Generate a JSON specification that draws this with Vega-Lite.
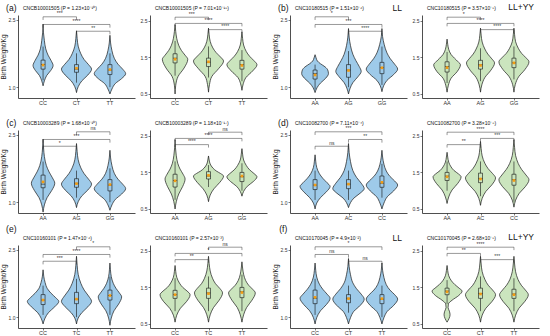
{
"$schema":"https://vega.github.io/schema/vega-lite/v6.json",
"padding":{"left":0,"right":2,"top":3,"bottom":0},
"spacing":5,
"datasets":{"all":[
{"p":"a1","g":1,"y":1.03,"w":0},{"p":"a1","g":1,"y":1.14,"w":0.04},{"p":"a1","g":1,"y":1.26,"w":0.11},{"p":"a1","g":1,"y":1.37,"w":0.23},{"p":"a1","g":1,"y":1.48,"w":0.3},{"p":"a1","g":1,"y":1.59,"w":0.24},{"p":"a1","g":1,"y":1.71,"w":0.15},{"p":"a1","g":1,"y":1.85,"w":0.08},{"p":"a1","g":1,"y":2.03,"w":0.04},{"p":"a1","g":1,"y":2.22,"w":0.01},{"p":"a1","g":1,"y":2.4,"w":0},
{"p":"a1","g":2,"y":0.88,"w":0},{"p":"a1","g":2,"y":1.01,"w":0.05},{"p":"a1","g":2,"y":1.14,"w":0.16},{"p":"a1","g":2,"y":1.27,"w":0.34},{"p":"a1","g":2,"y":1.4,"w":0.45},{"p":"a1","g":2,"y":1.5,"w":0.36},{"p":"a1","g":2,"y":1.61,"w":0.23},{"p":"a1","g":2,"y":1.74,"w":0.13},{"p":"a1","g":2,"y":1.91,"w":0.05},{"p":"a1","g":2,"y":2.08,"w":0.02},{"p":"a1","g":2,"y":2.25,"w":0},
{"p":"a1","g":3,"y":0.85,"w":0},{"p":"a1","g":3,"y":0.96,"w":0.06},{"p":"a1","g":3,"y":1.08,"w":0.16},{"p":"a1","g":3,"y":1.19,"w":0.35},{"p":"a1","g":3,"y":1.3,"w":0.47},{"p":"a1","g":3,"y":1.4,"w":0.38},{"p":"a1","g":3,"y":1.51,"w":0.24},{"p":"a1","g":3,"y":1.64,"w":0.13},{"p":"a1","g":3,"y":1.81,"w":0.06},{"p":"a1","g":3,"y":1.98,"w":0.02},{"p":"a1","g":3,"y":2.15,"w":0},
{"p":"a2","g":1,"y":0.5,"w":0},{"p":"a2","g":1,"y":0.74,"w":0.02},{"p":"a2","g":1,"y":0.98,"w":0.09},{"p":"a2","g":1,"y":1.21,"w":0.27},{"p":"a2","g":1,"y":1.45,"w":0.38},{"p":"a2","g":1,"y":1.56,"w":0.3},{"p":"a2","g":1,"y":1.69,"w":0.19},{"p":"a2","g":1,"y":1.83,"w":0.11},{"p":"a2","g":1,"y":2.02,"w":0.05},{"p":"a2","g":1,"y":2.21,"w":0.02},{"p":"a2","g":1,"y":2.4,"w":0},
{"p":"a2","g":2,"y":0.55,"w":0},{"p":"a2","g":2,"y":0.76,"w":0.03},{"p":"a2","g":2,"y":0.98,"w":0.1},{"p":"a2","g":2,"y":1.19,"w":0.3},{"p":"a2","g":2,"y":1.4,"w":0.45},{"p":"a2","g":2,"y":1.51,"w":0.36},{"p":"a2","g":2,"y":1.63,"w":0.23},{"p":"a2","g":2,"y":1.76,"w":0.13},{"p":"a2","g":2,"y":1.94,"w":0.05},{"p":"a2","g":2,"y":2.12,"w":0.02},{"p":"a2","g":2,"y":2.3,"w":0},
{"p":"a2","g":3,"y":0.6,"w":0},{"p":"a2","g":3,"y":0.78,"w":0.04},{"p":"a2","g":3,"y":0.95,"w":0.12},{"p":"a2","g":3,"y":1.13,"w":0.32},{"p":"a2","g":3,"y":1.3,"w":0.45},{"p":"a2","g":3,"y":1.41,"w":0.36},{"p":"a2","g":3,"y":1.53,"w":0.23},{"p":"a2","g":3,"y":1.66,"w":0.13},{"p":"a2","g":3,"y":1.84,"w":0.05},{"p":"a2","g":3,"y":2.02,"w":0.02},{"p":"a2","g":3,"y":2.2,"w":0},
{"p":"b1","g":1,"y":0.88,"w":0},{"p":"b1","g":1,"y":0.99,"w":0.06},{"p":"b1","g":1,"y":1.09,"w":0.16},{"p":"b1","g":1,"y":1.2,"w":0.32},{"p":"b1","g":1,"y":1.3,"w":0.4},{"p":"b1","g":1,"y":1.38,"w":0.38},{"p":"b1","g":1,"y":1.45,"w":0.3},{"p":"b1","g":1,"y":1.52,"w":0.16},{"p":"b1","g":1,"y":1.58,"w":0.07},{"p":"b1","g":1,"y":1.65,"w":0.03},{"p":"b1","g":1,"y":1.72,"w":0},
{"p":"b1","g":2,"y":0.85,"w":0},{"p":"b1","g":2,"y":0.98,"w":0.05},{"p":"b1","g":2,"y":1.1,"w":0.13},{"p":"b1","g":2,"y":1.23,"w":0.28},{"p":"b1","g":2,"y":1.35,"w":0.38},{"p":"b1","g":2,"y":1.46,"w":0.32},{"p":"b1","g":2,"y":1.59,"w":0.22},{"p":"b1","g":2,"y":1.73,"w":0.13},{"p":"b1","g":2,"y":1.92,"w":0.06},{"p":"b1","g":2,"y":2.11,"w":0.02},{"p":"b1","g":2,"y":2.3,"w":0},
{"p":"b1","g":3,"y":0.9,"w":0},{"p":"b1","g":3,"y":1.03,"w":0.05},{"p":"b1","g":3,"y":1.15,"w":0.15},{"p":"b1","g":3,"y":1.28,"w":0.35},{"p":"b1","g":3,"y":1.4,"w":0.47},{"p":"b1","g":3,"y":1.51,"w":0.38},{"p":"b1","g":3,"y":1.63,"w":0.25},{"p":"b1","g":3,"y":1.76,"w":0.15},{"p":"b1","g":3,"y":1.94,"w":0.07},{"p":"b1","g":3,"y":2.12,"w":0.02},{"p":"b1","g":3,"y":2.3,"w":0},
{"p":"b2","g":1,"y":0.55,"w":0},{"p":"b2","g":1,"y":0.74,"w":0.04},{"p":"b2","g":1,"y":0.93,"w":0.12},{"p":"b2","g":1,"y":1.11,"w":0.3},{"p":"b2","g":1,"y":1.3,"w":0.4},{"p":"b2","g":1,"y":1.38,"w":0.33},{"p":"b2","g":1,"y":1.48,"w":0.22},{"p":"b2","g":1,"y":1.58,"w":0.12},{"p":"b2","g":1,"y":1.72,"w":0.05},{"p":"b2","g":1,"y":1.86,"w":0.02},{"p":"b2","g":1,"y":2.0,"w":0},
{"p":"b2","g":2,"y":0.55,"w":0},{"p":"b2","g":2,"y":0.75,"w":0.04},{"p":"b2","g":2,"y":0.95,"w":0.13},{"p":"b2","g":2,"y":1.15,"w":0.31},{"p":"b2","g":2,"y":1.35,"w":0.42},{"p":"b2","g":2,"y":1.46,"w":0.34},{"p":"b2","g":2,"y":1.59,"w":0.22},{"p":"b2","g":2,"y":1.73,"w":0.13},{"p":"b2","g":2,"y":1.92,"w":0.05},{"p":"b2","g":2,"y":2.11,"w":0.02},{"p":"b2","g":2,"y":2.3,"w":0},
{"p":"b2","g":3,"y":0.55,"w":0},{"p":"b2","g":3,"y":0.76,"w":0.04},{"p":"b2","g":3,"y":0.97,"w":0.14},{"p":"b2","g":3,"y":1.17,"w":0.33},{"p":"b2","g":3,"y":1.38,"w":0.45},{"p":"b2","g":3,"y":1.49,"w":0.36},{"p":"b2","g":3,"y":1.61,"w":0.23},{"p":"b2","g":3,"y":1.75,"w":0.13},{"p":"b2","g":3,"y":1.93,"w":0.05},{"p":"b2","g":3,"y":2.12,"w":0.02},{"p":"b2","g":3,"y":2.3,"w":0},
{"p":"c1","g":1,"y":0.78,"w":0},{"p":"c1","g":1,"y":0.94,"w":0.04},{"p":"c1","g":1,"y":1.1,"w":0.12},{"p":"c1","g":1,"y":1.26,"w":0.26},{"p":"c1","g":1,"y":1.42,"w":0.35},{"p":"c1","g":1,"y":1.54,"w":0.28},{"p":"c1","g":1,"y":1.67,"w":0.18},{"p":"c1","g":1,"y":1.81,"w":0.1},{"p":"c1","g":1,"y":2.01,"w":0.04},{"p":"c1","g":1,"y":2.2,"w":0.015},{"p":"c1","g":1,"y":2.4,"w":0},
{"p":"c1","g":2,"y":0.88,"w":0},{"p":"c1","g":2,"y":1.01,"w":0.05},{"p":"c1","g":2,"y":1.14,"w":0.16},{"p":"c1","g":2,"y":1.27,"w":0.34},{"p":"c1","g":2,"y":1.4,"w":0.45},{"p":"c1","g":2,"y":1.51,"w":0.36},{"p":"c1","g":2,"y":1.63,"w":0.23},{"p":"c1","g":2,"y":1.76,"w":0.13},{"p":"c1","g":2,"y":1.94,"w":0.05},{"p":"c1","g":2,"y":2.12,"w":0.02},{"p":"c1","g":2,"y":2.3,"w":0},
{"p":"c1","g":3,"y":0.82,"w":0},{"p":"c1","g":3,"y":0.94,"w":0.06},{"p":"c1","g":3,"y":1.06,"w":0.16},{"p":"c1","g":3,"y":1.18,"w":0.35},{"p":"c1","g":3,"y":1.3,"w":0.47},{"p":"c1","g":3,"y":1.4,"w":0.38},{"p":"c1","g":3,"y":1.51,"w":0.24},{"p":"c1","g":3,"y":1.64,"w":0.13},{"p":"c1","g":3,"y":1.81,"w":0.06},{"p":"c1","g":3,"y":1.98,"w":0.02},{"p":"c1","g":3,"y":2.15,"w":0},
{"p":"c2","g":1,"y":0.5,"w":0},{"p":"c2","g":1,"y":0.71,"w":0.04},{"p":"c2","g":1,"y":0.91,"w":0.11},{"p":"c2","g":1,"y":1.12,"w":0.23},{"p":"c2","g":1,"y":1.32,"w":0.3},{"p":"c2","g":1,"y":1.45,"w":0.24},{"p":"c2","g":1,"y":1.59,"w":0.15},{"p":"c2","g":1,"y":1.75,"w":0.08},{"p":"c2","g":1,"y":1.97,"w":0.035},{"p":"c2","g":1,"y":2.18,"w":0.012},{"p":"c2","g":1,"y":2.4,"w":0},
{"p":"c2","g":2,"y":0.7,"w":0},{"p":"c2","g":2,"y":0.88,"w":0.05},{"p":"c2","g":2,"y":1.05,"w":0.16},{"p":"c2","g":2,"y":1.23,"w":0.34},{"p":"c2","g":2,"y":1.4,"w":0.45},{"p":"c2","g":2,"y":1.47,"w":0.36},{"p":"c2","g":2,"y":1.54,"w":0.23},{"p":"c2","g":2,"y":1.62,"w":0.13},{"p":"c2","g":2,"y":1.73,"w":0.05},{"p":"c2","g":2,"y":1.84,"w":0.02},{"p":"c2","g":2,"y":1.95,"w":0},
{"p":"c2","g":3,"y":0.85,"w":0},{"p":"c2","g":3,"y":0.98,"w":0.05},{"p":"c2","g":3,"y":1.12,"w":0.16},{"p":"c2","g":3,"y":1.25,"w":0.34},{"p":"c2","g":3,"y":1.38,"w":0.45},{"p":"c2","g":3,"y":1.47,"w":0.36},{"p":"c2","g":3,"y":1.57,"w":0.23},{"p":"c2","g":3,"y":1.69,"w":0.13},{"p":"c2","g":3,"y":1.84,"w":0.05},{"p":"c2","g":3,"y":2.0,"w":0.02},{"p":"c2","g":3,"y":2.15,"w":0},
{"p":"d1","g":1,"y":0.85,"w":0},{"p":"d1","g":1,"y":0.98,"w":0.05},{"p":"d1","g":1,"y":1.1,"w":0.16},{"p":"d1","g":1,"y":1.23,"w":0.34},{"p":"d1","g":1,"y":1.35,"w":0.45},{"p":"d1","g":1,"y":1.43,"w":0.36},{"p":"d1","g":1,"y":1.53,"w":0.23},{"p":"d1","g":1,"y":1.63,"w":0.13},{"p":"d1","g":1,"y":1.77,"w":0.05},{"p":"d1","g":1,"y":1.91,"w":0.02},{"p":"d1","g":1,"y":2.05,"w":0},
{"p":"d1","g":2,"y":0.88,"w":0},{"p":"d1","g":2,"y":0.99,"w":0.06},{"p":"d1","g":2,"y":1.09,"w":0.16},{"p":"d1","g":2,"y":1.2,"w":0.35},{"p":"d1","g":2,"y":1.3,"w":0.47},{"p":"d1","g":2,"y":1.42,"w":0.38},{"p":"d1","g":2,"y":1.55,"w":0.24},{"p":"d1","g":2,"y":1.7,"w":0.13},{"p":"d1","g":2,"y":1.9,"w":0.06},{"p":"d1","g":2,"y":2.1,"w":0.02},{"p":"d1","g":2,"y":2.3,"w":0},
{"p":"d1","g":3,"y":0.85,"w":0},{"p":"d1","g":3,"y":0.98,"w":0.06},{"p":"d1","g":3,"y":1.12,"w":0.16},{"p":"d1","g":3,"y":1.25,"w":0.35},{"p":"d1","g":3,"y":1.38,"w":0.47},{"p":"d1","g":3,"y":1.47,"w":0.38},{"p":"d1","g":3,"y":1.57,"w":0.24},{"p":"d1","g":3,"y":1.69,"w":0.13},{"p":"d1","g":3,"y":1.84,"w":0.06},{"p":"d1","g":3,"y":2.0,"w":0.02},{"p":"d1","g":3,"y":2.15,"w":0},
{"p":"d2","g":1,"y":0.65,"w":0},{"p":"d2","g":1,"y":0.83,"w":0.05},{"p":"d2","g":1,"y":1.02,"w":0.15},{"p":"d2","g":1,"y":1.2,"w":0.32},{"p":"d2","g":1,"y":1.38,"w":0.42},{"p":"d2","g":1,"y":1.46,"w":0.34},{"p":"d2","g":1,"y":1.55,"w":0.21},{"p":"d2","g":1,"y":1.65,"w":0.12},{"p":"d2","g":1,"y":1.78,"w":0.05},{"p":"d2","g":1,"y":1.92,"w":0.02},{"p":"d2","g":1,"y":2.05,"w":0},
{"p":"d2","g":2,"y":0.6,"w":0},{"p":"d2","g":2,"y":0.79,"w":0.05},{"p":"d2","g":2,"y":0.98,"w":0.16},{"p":"d2","g":2,"y":1.16,"w":0.34},{"p":"d2","g":2,"y":1.35,"w":0.45},{"p":"d2","g":2,"y":1.47,"w":0.36},{"p":"d2","g":2,"y":1.6,"w":0.23},{"p":"d2","g":2,"y":1.75,"w":0.13},{"p":"d2","g":2,"y":1.95,"w":0.05},{"p":"d2","g":2,"y":2.15,"w":0.02},{"p":"d2","g":2,"y":2.35,"w":0},
{"p":"d2","g":3,"y":0.55,"w":0},{"p":"d2","g":3,"y":0.74,"w":0.05},{"p":"d2","g":3,"y":0.93,"w":0.16},{"p":"d2","g":3,"y":1.11,"w":0.34},{"p":"d2","g":3,"y":1.3,"w":0.45},{"p":"d2","g":3,"y":1.43,"w":0.36},{"p":"d2","g":3,"y":1.58,"w":0.23},{"p":"d2","g":3,"y":1.74,"w":0.13},{"p":"d2","g":3,"y":1.96,"w":0.05},{"p":"d2","g":3,"y":2.18,"w":0.02},{"p":"d2","g":3,"y":2.4,"w":0},
{"p":"e1","g":1,"y":0.85,"w":0},{"p":"e1","g":1,"y":0.98,"w":0.06},{"p":"e1","g":1,"y":1.1,"w":0.16},{"p":"e1","g":1,"y":1.23,"w":0.35},{"p":"e1","g":1,"y":1.35,"w":0.47},{"p":"e1","g":1,"y":1.43,"w":0.38},{"p":"e1","g":1,"y":1.53,"w":0.24},{"p":"e1","g":1,"y":1.63,"w":0.13},{"p":"e1","g":1,"y":1.77,"w":0.06},{"p":"e1","g":1,"y":1.91,"w":0.02},{"p":"e1","g":1,"y":2.05,"w":0},
{"p":"e1","g":2,"y":0.85,"w":0},{"p":"e1","g":2,"y":0.98,"w":0.05},{"p":"e1","g":2,"y":1.1,"w":0.16},{"p":"e1","g":2,"y":1.23,"w":0.34},{"p":"e1","g":2,"y":1.35,"w":0.45},{"p":"e1","g":2,"y":1.47,"w":0.36},{"p":"e1","g":2,"y":1.6,"w":0.23},{"p":"e1","g":2,"y":1.75,"w":0.13},{"p":"e1","g":2,"y":1.95,"w":0.05},{"p":"e1","g":2,"y":2.15,"w":0.02},{"p":"e1","g":2,"y":2.35,"w":0},
{"p":"e1","g":3,"y":0.82,"w":0},{"p":"e1","g":3,"y":0.98,"w":0.04},{"p":"e1","g":3,"y":1.14,"w":0.12},{"p":"e1","g":3,"y":1.29,"w":0.26},{"p":"e1","g":3,"y":1.45,"w":0.35},{"p":"e1","g":3,"y":1.54,"w":0.28},{"p":"e1","g":3,"y":1.64,"w":0.18},{"p":"e1","g":3,"y":1.75,"w":0.1},{"p":"e1","g":3,"y":1.9,"w":0.04},{"p":"e1","g":3,"y":2.05,"w":0.015},{"p":"e1","g":3,"y":2.2,"w":0},
{"p":"e2","g":1,"y":0.55,"w":0},{"p":"e2","g":1,"y":0.74,"w":0.05},{"p":"e2","g":1,"y":0.93,"w":0.16},{"p":"e2","g":1,"y":1.11,"w":0.34},{"p":"e2","g":1,"y":1.3,"w":0.45},{"p":"e2","g":1,"y":1.4,"w":0.36},{"p":"e2","g":1,"y":1.5,"w":0.23},{"p":"e2","g":1,"y":1.62,"w":0.13},{"p":"e2","g":1,"y":1.78,"w":0.05},{"p":"e2","g":1,"y":1.94,"w":0.02},{"p":"e2","g":1,"y":2.1,"w":0},
{"p":"e2","g":2,"y":0.55,"w":0},{"p":"e2","g":2,"y":0.75,"w":0.05},{"p":"e2","g":2,"y":0.95,"w":0.15},{"p":"e2","g":2,"y":1.15,"w":0.32},{"p":"e2","g":2,"y":1.35,"w":0.42},{"p":"e2","g":2,"y":1.47,"w":0.34},{"p":"e2","g":2,"y":1.6,"w":0.21},{"p":"e2","g":2,"y":1.75,"w":0.12},{"p":"e2","g":2,"y":1.95,"w":0.05},{"p":"e2","g":2,"y":2.15,"w":0.02},{"p":"e2","g":2,"y":2.35,"w":0},
{"p":"e2","g":3,"y":0.55,"w":0},{"p":"e2","g":3,"y":0.75,"w":0.05},{"p":"e2","g":3,"y":0.95,"w":0.14},{"p":"e2","g":3,"y":1.15,"w":0.3},{"p":"e2","g":3,"y":1.35,"w":0.4},{"p":"e2","g":3,"y":1.45,"w":0.32},{"p":"e2","g":3,"y":1.56,"w":0.2},{"p":"e2","g":3,"y":1.69,"w":0.11},{"p":"e2","g":3,"y":1.86,"w":0.05},{"p":"e2","g":3,"y":2.03,"w":0.02},{"p":"e2","g":3,"y":2.2,"w":0},
{"p":"f1","g":1,"y":0.85,"w":0},{"p":"f1","g":1,"y":0.99,"w":0.05},{"p":"f1","g":1,"y":1.14,"w":0.16},{"p":"f1","g":1,"y":1.28,"w":0.34},{"p":"f1","g":1,"y":1.42,"w":0.45},{"p":"f1","g":1,"y":1.51,"w":0.36},{"p":"f1","g":1,"y":1.62,"w":0.23},{"p":"f1","g":1,"y":1.73,"w":0.13},{"p":"f1","g":1,"y":1.89,"w":0.05},{"p":"f1","g":1,"y":2.04,"w":0.02},{"p":"f1","g":1,"y":2.2,"w":0},
{"p":"f1","g":2,"y":0.85,"w":0},{"p":"f1","g":2,"y":0.99,"w":0.06},{"p":"f1","g":2,"y":1.13,"w":0.16},{"p":"f1","g":2,"y":1.26,"w":0.35},{"p":"f1","g":2,"y":1.4,"w":0.47},{"p":"f1","g":2,"y":1.51,"w":0.38},{"p":"f1","g":2,"y":1.63,"w":0.24},{"p":"f1","g":2,"y":1.76,"w":0.13},{"p":"f1","g":2,"y":1.94,"w":0.06},{"p":"f1","g":2,"y":2.12,"w":0.02},{"p":"f1","g":2,"y":2.3,"w":0},
{"p":"f1","g":3,"y":0.85,"w":0},{"p":"f1","g":3,"y":0.99,"w":0.06},{"p":"f1","g":3,"y":1.13,"w":0.16},{"p":"f1","g":3,"y":1.26,"w":0.35},{"p":"f1","g":3,"y":1.4,"w":0.47},{"p":"f1","g":3,"y":1.5,"w":0.38},{"p":"f1","g":3,"y":1.6,"w":0.24},{"p":"f1","g":3,"y":1.72,"w":0.13},{"p":"f1","g":3,"y":1.88,"w":0.06},{"p":"f1","g":3,"y":2.04,"w":0.02},{"p":"f1","g":3,"y":2.2,"w":0},
{"p":"f2","g":1,"y":0.55,"w":0},{"p":"f2","g":1,"y":0.65,"w":0.06},{"p":"f2","g":1,"y":0.75,"w":0.09},{"p":"f2","g":1,"y":0.85,"w":0.07},{"p":"f2","g":1,"y":0.95,"w":0.03},{"p":"f2","g":1,"y":1.05,"w":0.04},{"p":"f2","g":1,"y":1.15,"w":0.15},{"p":"f2","g":1,"y":1.28,"w":0.35},{"p":"f2","g":1,"y":1.4,"w":0.45},{"p":"f2","g":1,"y":1.48,"w":0.36},{"p":"f2","g":1,"y":1.58,"w":0.23},{"p":"f2","g":1,"y":1.68,"w":0.13},{"p":"f2","g":1,"y":1.82,"w":0.05},{"p":"f2","g":1,"y":1.96,"w":0.02},{"p":"f2","g":1,"y":2.1,"w":0},
{"p":"f2","g":2,"y":0.55,"w":0},{"p":"f2","g":2,"y":0.74,"w":0.05},{"p":"f2","g":2,"y":0.93,"w":0.16},{"p":"f2","g":2,"y":1.11,"w":0.34},{"p":"f2","g":2,"y":1.3,"w":0.45},{"p":"f2","g":2,"y":1.43,"w":0.36},{"p":"f2","g":2,"y":1.56,"w":0.23},{"p":"f2","g":2,"y":1.72,"w":0.13},{"p":"f2","g":2,"y":1.93,"w":0.05},{"p":"f2","g":2,"y":2.14,"w":0.02},{"p":"f2","g":2,"y":2.35,"w":0},
{"p":"f2","g":3,"y":0.55,"w":0},{"p":"f2","g":3,"y":0.74,"w":0.05},{"p":"f2","g":3,"y":0.93,"w":0.15},{"p":"f2","g":3,"y":1.11,"w":0.32},{"p":"f2","g":3,"y":1.3,"w":0.43},{"p":"f2","g":3,"y":1.43,"w":0.34},{"p":"f2","g":3,"y":1.56,"w":0.22},{"p":"f2","g":3,"y":1.72,"w":0.12},{"p":"f2","g":3,"y":1.93,"w":0.05},{"p":"f2","g":3,"y":2.14,"w":0.02},{"p":"f2","g":3,"y":2.35,"w":0},
{"p":"a1","g":1,"l":1.15,"q1":1.4,"m":1.5,"q3":1.6,"h":1.9,"mn":1.49},{"p":"a1","g":2,"l":1.1,"q1":1.33,"m":1.4,"q3":1.5,"h":1.75,"mn":1.42},{"p":"a1","g":3,"l":1.0,"q1":1.28,"m":1.38,"q3":1.5,"h":1.75,"mn":1.39},
{"p":"a2","g":1,"l":1.0,"q1":1.35,"m":1.48,"q3":1.6,"h":1.95,"mn":1.45},{"p":"a2","g":2,"l":0.95,"q1":1.25,"m":1.37,"q3":1.48,"h":1.8,"mn":1.38},{"p":"a2","g":3,"l":0.85,"q1":1.18,"m":1.3,"q3":1.42,"h":1.7,"mn":1.28},
{"p":"b1","g":1,"l":0.95,"q1":1.18,"m":1.3,"q3":1.38,"h":1.5,"mn":1.27},{"p":"b1","g":2,"l":1.0,"q1":1.22,"m":1.38,"q3":1.5,"h":1.8,"mn":1.37},{"p":"b1","g":3,"l":1.05,"q1":1.3,"m":1.43,"q3":1.55,"h":1.9,"mn":1.43},
{"p":"b2","g":1,"l":0.8,"q1":1.1,"m":1.25,"q3":1.38,"h":1.65,"mn":1.22},{"p":"b2","g":2,"l":0.85,"q1":1.18,"m":1.3,"q3":1.42,"h":1.75,"mn":1.28},{"p":"b2","g":3,"l":0.9,"q1":1.22,"m":1.35,"q3":1.48,"h":1.8,"mn":1.35},
{"p":"c1","g":1,"l":1.05,"q1":1.32,"m":1.4,"q3":1.6,"h":1.9,"mn":1.45},{"p":"c1","g":2,"l":1.1,"q1":1.33,"m":1.42,"q3":1.52,"h":1.7,"mn":1.41},{"p":"c1","g":3,"l":1.0,"q1":1.25,"m":1.38,"q3":1.5,"h":1.75,"mn":1.39},
{"p":"c2","g":1,"l":0.75,"q1":1.1,"m":1.28,"q3":1.45,"h":1.8,"mn":1.27},{"p":"c2","g":2,"l":1.1,"q1":1.32,"m":1.4,"q3":1.52,"h":1.7,"mn":1.42},{"p":"c2","g":3,"l":1.0,"q1":1.25,"m":1.38,"q3":1.5,"h":1.75,"mn":1.4},
{"p":"d1","g":1,"l":1.05,"q1":1.28,"m":1.38,"q3":1.5,"h":1.7,"mn":1.38},{"p":"d1","g":2,"l":1.05,"q1":1.3,"m":1.4,"q3":1.5,"h":1.7,"mn":1.4},{"p":"d1","g":3,"l":1.1,"q1":1.33,"m":1.42,"q3":1.58,"h":1.85,"mn":1.44},
{"p":"d2","g":1,"l":1.0,"q1":1.28,"m":1.4,"q3":1.5,"h":1.8,"mn":1.38},{"p":"d2","g":2,"l":0.85,"q1":1.22,"m":1.33,"q3":1.48,"h":1.8,"mn":1.32},{"p":"d2","g":3,"l":0.7,"q1":1.15,"m":1.3,"q3":1.45,"h":1.8,"mn":1.28},
{"p":"e1","g":1,"l":1.05,"q1":1.28,"m":1.38,"q3":1.5,"h":1.7,"mn":1.38},{"p":"e1","g":2,"l":1.0,"q1":1.3,"m":1.4,"q3":1.55,"h":1.85,"mn":1.4},{"p":"e1","g":3,"l":1.05,"q1":1.38,"m":1.48,"q3":1.6,"h":1.9,"mn":1.48},
{"p":"e2","g":1,"l":0.85,"q1":1.2,"m":1.3,"q3":1.42,"h":1.75,"mn":1.3},{"p":"e2","g":2,"l":0.85,"q1":1.2,"m":1.35,"q3":1.48,"h":1.8,"mn":1.33},{"p":"e2","g":3,"l":0.85,"q1":1.22,"m":1.38,"q3":1.5,"h":1.85,"mn":1.36},
{"p":"f1","g":1,"l":1.05,"q1":1.3,"m":1.42,"q3":1.6,"h":1.85,"mn":1.44},{"p":"f1","g":2,"l":1.1,"q1":1.32,"m":1.42,"q3":1.5,"h":1.7,"mn":1.41},{"p":"f1","g":3,"l":1.0,"q1":1.3,"m":1.4,"q3":1.5,"h":1.7,"mn":1.41},
{"p":"f2","g":1,"l":1.05,"q1":1.3,"m":1.4,"q3":1.48,"h":1.7,"mn":1.38},{"p":"f2","g":2,"l":0.85,"q1":1.2,"m":1.33,"q3":1.48,"h":1.8,"mn":1.32},{"p":"f2","g":3,"l":0.85,"q1":1.2,"m":1.32,"q3":1.45,"h":1.75,"mn":1.3},
{"p":"a1","x1":1,"x2":2,"y":2.56,"t":"***"},{"p":"a1","x1":1,"x2":3,"y":2.39,"t":"****"},{"p":"a1","x1":2,"x2":3,"y":2.24,"t":"**"},
{"p":"a2","x1":1,"x2":2,"y":2.6,"t":"***"},{"p":"a2","x1":1,"x2":3,"y":2.43,"t":"****"},{"p":"a2","x1":2,"x2":3,"y":2.26,"t":"****"},
{"p":"b1","x1":1,"x2":2,"y":2.56,"t":"*"},{"p":"b1","x1":1,"x2":3,"y":2.39,"t":"***"},{"p":"b1","x1":2,"x2":3,"y":2.24,"t":"****"},
{"p":"b2","x1":1,"x2":2,"y":2.6,"t":"*"},{"p":"b2","x1":1,"x2":3,"y":2.43,"t":"****"},{"p":"b2","x1":2,"x2":3,"y":2.26,"t":"****"},
{"p":"c1","x1":2,"x2":3,"y":2.56,"t":"ns"},{"p":"c1","x1":1,"x2":3,"y":2.39,"t":"***"},{"p":"c1","x1":1,"x2":2,"y":2.24,"t":"*"},
{"p":"c2","x1":2,"x2":3,"y":2.6,"t":"ns"},{"p":"c2","x1":1,"x2":3,"y":2.43,"t":"****"},{"p":"c2","x1":1,"x2":2,"y":2.26,"t":"****"},
{"p":"d1","x1":1,"x2":3,"y":2.56,"t":"***"},{"p":"d1","x1":2,"x2":3,"y":2.39,"t":"**"},{"p":"d1","x1":1,"x2":2,"y":2.24,"t":"ns"},
{"p":"d2","x1":1,"x2":3,"y":2.6,"t":"****"},{"p":"d2","x1":2,"x2":3,"y":2.43,"t":"***"},{"p":"d2","x1":1,"x2":2,"y":2.26,"t":"**"},
{"p":"e1","x1":2,"x2":3,"y":2.56,"t":"*"},{"p":"e1","x1":1,"x2":3,"y":2.39,"t":"****"},{"p":"e1","x1":1,"x2":2,"y":2.24,"t":"***"},
{"p":"e2","x1":2,"x2":3,"y":2.6,"t":"ns"},{"p":"e2","x1":1,"x2":3,"y":2.43,"t":"*"},{"p":"e2","x1":1,"x2":2,"y":2.26,"t":"**"},
{"p":"f1","x1":1,"x2":3,"y":2.56,"t":"*"},{"p":"f1","x1":1,"x2":2,"y":2.39,"t":"ns"},{"p":"f1","x1":2,"x2":3,"y":2.24,"t":"ns"},
{"p":"f2","x1":1,"x2":3,"y":2.6,"t":"****"},{"p":"f2","x1":1,"x2":2,"y":2.43,"t":"**"},{"p":"f2","x1":2,"x2":3,"y":2.26,"t":"***"},
{"p":"a1","g":1,"gt":"CC"},{"p":"a1","g":2,"gt":"CT"},{"p":"a1","g":3,"gt":"TT"},
{"p":"a2","g":1,"gt":"CC"},{"p":"a2","g":2,"gt":"CT"},{"p":"a2","g":3,"gt":"TT"},
{"p":"b1","g":1,"gt":"AA"},{"p":"b1","g":2,"gt":"AG"},{"p":"b1","g":3,"gt":"GG"},
{"p":"b2","g":1,"gt":"AA"},{"p":"b2","g":2,"gt":"AG"},{"p":"b2","g":3,"gt":"GG"},
{"p":"c1","g":1,"gt":"AA"},{"p":"c1","g":2,"gt":"AG"},{"p":"c1","g":3,"gt":"GG"},
{"p":"c2","g":1,"gt":"AA"},{"p":"c2","g":2,"gt":"AG"},{"p":"c2","g":3,"gt":"GG"},
{"p":"d1","g":1,"gt":"AA"},{"p":"d1","g":2,"gt":"AC"},{"p":"d1","g":3,"gt":"CC"},
{"p":"d2","g":1,"gt":"AA"},{"p":"d2","g":2,"gt":"AC"},{"p":"d2","g":3,"gt":"CC"},
{"p":"e1","g":1,"gt":"CC"},{"p":"e1","g":2,"gt":"TC"},{"p":"e1","g":3,"gt":"TT"},
{"p":"e2","g":1,"gt":"CC"},{"p":"e2","g":2,"gt":"TC"},{"p":"e2","g":3,"gt":"TT"},
{"p":"f1","g":1,"gt":"CC"},{"p":"f1","g":2,"gt":"CT"},{"p":"f1","g":3,"gt":"TT"},
{"p":"f2","g":1,"gt":"CC"},{"p":"f2","g":2,"gt":"CT"},{"p":"f2","g":3,"gt":"TT"},
{"p":"a1","T":"CNCB10001505 (P = 1.23×10⁻¹⁰)"},{"p":"a2","T":"CNCB10001505 (P = 7.01×10⁻¹⁵)"},{"p":"b1","T":"CNC10180515 (P = 1.51×10⁻⁶)"},{"p":"b2","T":"CNC10180515 (P = 3.57×10⁻⁵)"},
{"p":"c1","T":"CNCB10003289 (P = 1.68×10⁻¹⁰)"},{"p":"c2","T":"CNCB10003289 (P = 1.18×10⁻¹⁷)"},{"p":"d1","T":"CNC10082700 (P = 7.11×10⁻⁴)"},{"p":"d2","T":"CNC10082700 (P = 3.28×10⁻⁸)"},
{"p":"e1","T":"CNC10160101 (P = 1.47×10⁻⁶)"},{"p":"e2","T":"CNC10160101 (P = 2.57×10⁻³)"},{"p":"f1","T":"CNC10170045 (P = 4.9×10⁻²)"},{"p":"f2","T":"CNC10170045 (P = 2.68×10⁻⁵)"},
{"p":"a1","L":"(a)"},{"p":"b1","L":"(b)"},{"p":"c1","L":"(c)"},{"p":"d1","L":"(d)"},{"p":"e1","L":"(e)"},{"p":"f1","L":"(f)"},
{"p":"b1","S":"LL"},{"p":"b2","S":"LL+YY"},{"p":"f1","S":"LL"},{"p":"f2","S":"LL+YY"}
]},
"hconcat":[
{"data":{"name":"all"},"transform":[{"filter":{"field":"p","oneOf":["a1","c1","e1"]}}],
 "facet":{"field":"p","type":"nominal","title":null,"header":{"labels":false,"labelExpr":"''","labelFontSize":0,"labelPadding":0}},"columns":1,"spacing":2,
 "spec":{"width":117,"height":83,"layer":[
  {"transform":[{"filter":"isValid(datum.w)"},{"calculate":"datum.g-datum.w","as":"lo"},{"calculate":"datum.g+datum.w","as":"hi"}],
   "mark":{"type":"area","orient":"horizontal","interpolate":"monotone","fill":"#9ECAE9","stroke":"#1a1a1a","strokeWidth":0.7},
   "encoding":{"y":{"field":"y","type":"quantitative","scale":{"domain":[0.76,2.6],"nice":false,"zero":false},"axis":{"values":[1,1.5,2,2.5],"format":".1f","title":"Birth Weight/Kg"}},
    "x":{"field":"lo","type":"quantitative","scale":{"domain":[0.4,3.6],"nice":false,"zero":false},"axis":{"values":[1,2,3],"labels":false,"title":null}},
    "x2":{"field":"hi"},"detail":{"field":"g","type":"nominal"}}},
  {"transform":[{"filter":"isValid(datum.q1)"}],"mark":{"type":"rule","color":"#111","strokeWidth":0.6},
   "encoding":{"x":{"field":"g","type":"quantitative"},"y":{"field":"l","type":"quantitative"},"y2":{"field":"h"}}},
  {"transform":[{"filter":"isValid(datum.q1)"}],"mark":{"type":"bar","size":4,"fill":"#9ECAE9","stroke":"#111","strokeWidth":0.6},
   "encoding":{"x":{"field":"g","type":"quantitative"},"y":{"field":"q1","type":"quantitative"},"y2":{"field":"q3"}}},
  {"transform":[{"filter":"isValid(datum.q1)"}],"mark":{"type":"tick","orient":"horizontal","size":4,"thickness":0.8,"color":"#111"},
   "encoding":{"x":{"field":"g","type":"quantitative"},"y":{"field":"m","type":"quantitative"}}},
  {"transform":[{"filter":"isValid(datum.q1)"}],"mark":{"type":"square","size":7,"color":"#F39C12","opacity":1},
   "encoding":{"x":{"field":"g","type":"quantitative"},"y":{"field":"mn","type":"quantitative"}}},
  {"transform":[{"filter":"isValid(datum.x1)"}],"mark":{"type":"rule","color":"#333","strokeWidth":0.5},
   "encoding":{"x":{"field":"x1","type":"quantitative"},"x2":{"field":"x2"},"y":{"field":"y","type":"quantitative"}}},
  {"transform":[{"filter":"isValid(datum.x1)"},{"calculate":"datum.y-0.07","as":"yt"}],"mark":{"type":"rule","color":"#333","strokeWidth":0.5},
   "encoding":{"x":{"field":"x1","type":"quantitative"},"y":{"field":"y","type":"quantitative"},"y2":{"field":"yt"}}},
  {"transform":[{"filter":"isValid(datum.x1)"},{"calculate":"datum.y-0.07","as":"yt"}],"mark":{"type":"rule","color":"#333","strokeWidth":0.5},
   "encoding":{"x":{"field":"x2","type":"quantitative"},"y":{"field":"y","type":"quantitative"},"y2":{"field":"yt"}}},
  {"transform":[{"filter":"isValid(datum.x1)"},{"calculate":"(datum.x1+datum.x2)/2","as":"xm"}],"mark":{"type":"text","fontSize":5,"baseline":"bottom","dy":-0.5,"color":"#333"},
   "encoding":{"x":{"field":"xm","type":"quantitative"},"y":{"field":"y","type":"quantitative"},"text":{"field":"t"}}},
  {"transform":[{"filter":"isValid(datum.gt)"}],"mark":{"type":"text","fontSize":5.5,"baseline":"top","dy":3,"color":"#333"},
   "encoding":{"x":{"field":"g","type":"quantitative"},"y":{"datum":0.76,"type":"quantitative"},"text":{"field":"gt"}}},
  {"transform":[{"filter":"isValid(datum.T)"}],"mark":{"type":"text","fontSize":5,"align":"left","baseline":"middle","color":"#111"},
   "encoding":{"x":{"datum":0.4,"type":"quantitative"},"y":{"datum":2.76,"type":"quantitative"},"text":{"field":"T"}}},
  {"transform":[{"filter":"isValid(datum.L) && datum.p != 'e1' && datum.p != 'f1'"}],"mark":{"type":"text","fontSize":8.5,"align":"center","baseline":"middle","color":"#111"},
   "encoding":{"x":{"datum":0.05,"type":"quantitative"},"y":{"datum":2.76,"type":"quantitative"},"text":{"field":"L"}}},
  {"transform":[{"filter":"isValid(datum.L) && (datum.p == 'e1' || datum.p == 'f1')"}],"mark":{"type":"text","fontSize":8.5,"align":"center","baseline":"middle","color":"#111"},
   "encoding":{"x":{"datum":0.05,"type":"quantitative"},"y":{"datum":2.96,"type":"quantitative"},"text":{"field":"L"}}}
 ]},
 "resolve":{"axis":{"x":"independent","y":"independent"}}},
{"data":{"name":"all"},"transform":[{"filter":{"field":"p","oneOf":["a2","c2","e2"]}}],
 "facet":{"field":"p","type":"nominal","title":null,"header":{"labels":false,"labelExpr":"''","labelFontSize":0,"labelPadding":0}},"columns":1,"spacing":2,
 "spec":{"width":117,"height":83,"layer":[
  {"transform":[{"filter":"isValid(datum.w)"},{"calculate":"datum.g-datum.w","as":"lo"},{"calculate":"datum.g+datum.w","as":"hi"}],
   "mark":{"type":"area","orient":"horizontal","interpolate":"monotone","fill":"#CBE5BE","stroke":"#1a1a1a","strokeWidth":0.7},
   "encoding":{"y":{"field":"y","type":"quantitative","scale":{"domain":[0.39,2.66],"nice":false,"zero":false},"axis":{"values":[0.5,1,1.5,2,2.5],"format":".1f","title":null}},
    "x":{"field":"lo","type":"quantitative","scale":{"domain":[0.4,3.6],"nice":false,"zero":false},"axis":{"values":[1,2,3],"labels":false,"title":null}},
    "x2":{"field":"hi"},"detail":{"field":"g","type":"nominal"}}},
  {"transform":[{"filter":"isValid(datum.q1)"}],"mark":{"type":"rule","color":"#111","strokeWidth":0.6},
   "encoding":{"x":{"field":"g","type":"quantitative"},"y":{"field":"l","type":"quantitative"},"y2":{"field":"h"}}},
  {"transform":[{"filter":"isValid(datum.q1)"}],"mark":{"type":"bar","size":4,"fill":"#CBE5BE","stroke":"#111","strokeWidth":0.6},
   "encoding":{"x":{"field":"g","type":"quantitative"},"y":{"field":"q1","type":"quantitative"},"y2":{"field":"q3"}}},
  {"transform":[{"filter":"isValid(datum.q1)"}],"mark":{"type":"tick","orient":"horizontal","size":4,"thickness":0.8,"color":"#111"},
   "encoding":{"x":{"field":"g","type":"quantitative"},"y":{"field":"m","type":"quantitative"}}},
  {"transform":[{"filter":"isValid(datum.q1)"}],"mark":{"type":"square","size":7,"color":"#F39C12","opacity":1},
   "encoding":{"x":{"field":"g","type":"quantitative"},"y":{"field":"mn","type":"quantitative"}}},
  {"transform":[{"filter":"isValid(datum.x1)"}],"mark":{"type":"rule","color":"#333","strokeWidth":0.5},
   "encoding":{"x":{"field":"x1","type":"quantitative"},"x2":{"field":"x2"},"y":{"field":"y","type":"quantitative"}}},
  {"transform":[{"filter":"isValid(datum.x1)"},{"calculate":"datum.y-0.08","as":"yt"}],"mark":{"type":"rule","color":"#333","strokeWidth":0.5},
   "encoding":{"x":{"field":"x1","type":"quantitative"},"y":{"field":"y","type":"quantitative"},"y2":{"field":"yt"}}},
  {"transform":[{"filter":"isValid(datum.x1)"},{"calculate":"datum.y-0.08","as":"yt"}],"mark":{"type":"rule","color":"#333","strokeWidth":0.5},
   "encoding":{"x":{"field":"x2","type":"quantitative"},"y":{"field":"y","type":"quantitative"},"y2":{"field":"yt"}}},
  {"transform":[{"filter":"isValid(datum.x1)"},{"calculate":"(datum.x1+datum.x2)/2","as":"xm"}],"mark":{"type":"text","fontSize":5,"baseline":"bottom","dy":-0.5,"color":"#333"},
   "encoding":{"x":{"field":"xm","type":"quantitative"},"y":{"field":"y","type":"quantitative"},"text":{"field":"t"}}},
  {"transform":[{"filter":"isValid(datum.gt)"}],"mark":{"type":"text","fontSize":5.5,"baseline":"top","dy":3,"color":"#333"},
   "encoding":{"x":{"field":"g","type":"quantitative"},"y":{"datum":0.39,"type":"quantitative"},"text":{"field":"gt"}}},
  {"transform":[{"filter":"isValid(datum.T)"}],"mark":{"type":"text","fontSize":5,"align":"left","baseline":"middle","color":"#111"},
   "encoding":{"x":{"datum":0.4,"type":"quantitative"},"y":{"datum":2.85,"type":"quantitative"},"text":{"field":"T"}}},
  {"transform":[{"filter":"isValid(datum.T) && (datum.p == 'e2' || datum.p == 'f2')"}],"mark":{"type":"text","fontSize":8.5,"opacity":0},
   "encoding":{"x":{"datum":0.4,"type":"quantitative"},"y":{"datum":3.1,"type":"quantitative"},"text":{"value":" "}}}
 ]},
 "resolve":{"axis":{"x":"independent","y":"independent"}}},
{"data":{"name":"all"},"transform":[{"filter":{"field":"p","oneOf":["b1","d1","f1"]}}],
 "facet":{"field":"p","type":"nominal","title":null,"header":{"labels":false,"labelExpr":"''","labelFontSize":0,"labelPadding":0}},"columns":1,"spacing":2,
 "spec":{"width":117,"height":83,"layer":[
  {"transform":[{"filter":"isValid(datum.w)"},{"calculate":"datum.g-datum.w","as":"lo"},{"calculate":"datum.g+datum.w","as":"hi"}],
   "mark":{"type":"area","orient":"horizontal","interpolate":"monotone","fill":"#9ECAE9","stroke":"#1a1a1a","strokeWidth":0.7},
   "encoding":{"y":{"field":"y","type":"quantitative","scale":{"domain":[0.76,2.6],"nice":false,"zero":false},"axis":{"values":[1,1.5,2,2.5],"format":".1f","title":"Birth Weight/Kg"}},
    "x":{"field":"lo","type":"quantitative","scale":{"domain":[0.4,3.6],"nice":false,"zero":false},"axis":{"values":[1,2,3],"labels":false,"title":null}},
    "x2":{"field":"hi"},"detail":{"field":"g","type":"nominal"}}},
  {"transform":[{"filter":"isValid(datum.q1)"}],"mark":{"type":"rule","color":"#111","strokeWidth":0.6},
   "encoding":{"x":{"field":"g","type":"quantitative"},"y":{"field":"l","type":"quantitative"},"y2":{"field":"h"}}},
  {"transform":[{"filter":"isValid(datum.q1)"}],"mark":{"type":"bar","size":4,"fill":"#9ECAE9","stroke":"#111","strokeWidth":0.6},
   "encoding":{"x":{"field":"g","type":"quantitative"},"y":{"field":"q1","type":"quantitative"},"y2":{"field":"q3"}}},
  {"transform":[{"filter":"isValid(datum.q1)"}],"mark":{"type":"tick","orient":"horizontal","size":4,"thickness":0.8,"color":"#111"},
   "encoding":{"x":{"field":"g","type":"quantitative"},"y":{"field":"m","type":"quantitative"}}},
  {"transform":[{"filter":"isValid(datum.q1)"}],"mark":{"type":"square","size":7,"color":"#F39C12","opacity":1},
   "encoding":{"x":{"field":"g","type":"quantitative"},"y":{"field":"mn","type":"quantitative"}}},
  {"transform":[{"filter":"isValid(datum.x1)"}],"mark":{"type":"rule","color":"#333","strokeWidth":0.5},
   "encoding":{"x":{"field":"x1","type":"quantitative"},"x2":{"field":"x2"},"y":{"field":"y","type":"quantitative"}}},
  {"transform":[{"filter":"isValid(datum.x1)"},{"calculate":"datum.y-0.07","as":"yt"}],"mark":{"type":"rule","color":"#333","strokeWidth":0.5},
   "encoding":{"x":{"field":"x1","type":"quantitative"},"y":{"field":"y","type":"quantitative"},"y2":{"field":"yt"}}},
  {"transform":[{"filter":"isValid(datum.x1)"},{"calculate":"datum.y-0.07","as":"yt"}],"mark":{"type":"rule","color":"#333","strokeWidth":0.5},
   "encoding":{"x":{"field":"x2","type":"quantitative"},"y":{"field":"y","type":"quantitative"},"y2":{"field":"yt"}}},
  {"transform":[{"filter":"isValid(datum.x1)"},{"calculate":"(datum.x1+datum.x2)/2","as":"xm"}],"mark":{"type":"text","fontSize":5,"baseline":"bottom","dy":-0.5,"color":"#333"},
   "encoding":{"x":{"field":"xm","type":"quantitative"},"y":{"field":"y","type":"quantitative"},"text":{"field":"t"}}},
  {"transform":[{"filter":"isValid(datum.gt)"}],"mark":{"type":"text","fontSize":5.5,"baseline":"top","dy":3,"color":"#333"},
   "encoding":{"x":{"field":"g","type":"quantitative"},"y":{"datum":0.76,"type":"quantitative"},"text":{"field":"gt"}}},
  {"transform":[{"filter":"isValid(datum.T)"}],"mark":{"type":"text","fontSize":5,"align":"left","baseline":"middle","color":"#111"},
   "encoding":{"x":{"datum":0.4,"type":"quantitative"},"y":{"datum":2.76,"type":"quantitative"},"text":{"field":"T"}}},
  {"transform":[{"filter":"isValid(datum.L) && datum.p != 'e1' && datum.p != 'f1'"}],"mark":{"type":"text","fontSize":8.5,"align":"center","baseline":"middle","color":"#111"},
   "encoding":{"x":{"datum":0.05,"type":"quantitative"},"y":{"datum":2.76,"type":"quantitative"},"text":{"field":"L"}}},
  {"transform":[{"filter":"isValid(datum.L) && (datum.p == 'e1' || datum.p == 'f1')"}],"mark":{"type":"text","fontSize":8.5,"align":"center","baseline":"middle","color":"#111"},
   "encoding":{"x":{"datum":0.05,"type":"quantitative"},"y":{"datum":2.96,"type":"quantitative"},"text":{"field":"L"}}},
  {"transform":[{"filter":"isValid(datum.S)"}],"mark":{"type":"text","fontSize":8.5,"align":"right","baseline":"middle","color":"#111"},
   "encoding":{"x":{"datum":3.6,"type":"quantitative"},"y":{"datum":2.76,"type":"quantitative"},"text":{"field":"S"}}}
 ]},
 "resolve":{"axis":{"x":"independent","y":"independent"}}},
{"data":{"name":"all"},"transform":[{"filter":{"field":"p","oneOf":["b2","d2","f2"]}}],
 "facet":{"field":"p","type":"nominal","title":null,"header":{"labels":false,"labelExpr":"''","labelFontSize":0,"labelPadding":0}},"columns":1,"spacing":2,
 "spec":{"width":117,"height":83,"layer":[
  {"transform":[{"filter":"isValid(datum.w)"},{"calculate":"datum.g-datum.w","as":"lo"},{"calculate":"datum.g+datum.w","as":"hi"}],
   "mark":{"type":"area","orient":"horizontal","interpolate":"monotone","fill":"#CBE5BE","stroke":"#1a1a1a","strokeWidth":0.7},
   "encoding":{"y":{"field":"y","type":"quantitative","scale":{"domain":[0.39,2.66],"nice":false,"zero":false},"axis":{"values":[0.5,1,1.5,2,2.5],"format":".1f","title":null}},
    "x":{"field":"lo","type":"quantitative","scale":{"domain":[0.4,3.6],"nice":false,"zero":false},"axis":{"values":[1,2,3],"labels":false,"title":null}},
    "x2":{"field":"hi"},"detail":{"field":"g","type":"nominal"}}},
  {"transform":[{"filter":"isValid(datum.q1)"}],"mark":{"type":"rule","color":"#111","strokeWidth":0.6},
   "encoding":{"x":{"field":"g","type":"quantitative"},"y":{"field":"l","type":"quantitative"},"y2":{"field":"h"}}},
  {"transform":[{"filter":"isValid(datum.q1)"}],"mark":{"type":"bar","size":4,"fill":"#CBE5BE","stroke":"#111","strokeWidth":0.6},
   "encoding":{"x":{"field":"g","type":"quantitative"},"y":{"field":"q1","type":"quantitative"},"y2":{"field":"q3"}}},
  {"transform":[{"filter":"isValid(datum.q1)"}],"mark":{"type":"tick","orient":"horizontal","size":4,"thickness":0.8,"color":"#111"},
   "encoding":{"x":{"field":"g","type":"quantitative"},"y":{"field":"m","type":"quantitative"}}},
  {"transform":[{"filter":"isValid(datum.q1)"}],"mark":{"type":"square","size":7,"color":"#F39C12","opacity":1},
   "encoding":{"x":{"field":"g","type":"quantitative"},"y":{"field":"mn","type":"quantitative"}}},
  {"transform":[{"filter":"isValid(datum.x1)"}],"mark":{"type":"rule","color":"#333","strokeWidth":0.5},
   "encoding":{"x":{"field":"x1","type":"quantitative"},"x2":{"field":"x2"},"y":{"field":"y","type":"quantitative"}}},
  {"transform":[{"filter":"isValid(datum.x1)"},{"calculate":"datum.y-0.08","as":"yt"}],"mark":{"type":"rule","color":"#333","strokeWidth":0.5},
   "encoding":{"x":{"field":"x1","type":"quantitative"},"y":{"field":"y","type":"quantitative"},"y2":{"field":"yt"}}},
  {"transform":[{"filter":"isValid(datum.x1)"},{"calculate":"datum.y-0.08","as":"yt"}],"mark":{"type":"rule","color":"#333","strokeWidth":0.5},
   "encoding":{"x":{"field":"x2","type":"quantitative"},"y":{"field":"y","type":"quantitative"},"y2":{"field":"yt"}}},
  {"transform":[{"filter":"isValid(datum.x1)"},{"calculate":"(datum.x1+datum.x2)/2","as":"xm"}],"mark":{"type":"text","fontSize":5,"baseline":"bottom","dy":-0.5,"color":"#333"},
   "encoding":{"x":{"field":"xm","type":"quantitative"},"y":{"field":"y","type":"quantitative"},"text":{"field":"t"}}},
  {"transform":[{"filter":"isValid(datum.gt)"}],"mark":{"type":"text","fontSize":5.5,"baseline":"top","dy":3,"color":"#333"},
   "encoding":{"x":{"field":"g","type":"quantitative"},"y":{"datum":0.39,"type":"quantitative"},"text":{"field":"gt"}}},
  {"transform":[{"filter":"isValid(datum.T)"}],"mark":{"type":"text","fontSize":5,"align":"left","baseline":"middle","color":"#111"},
   "encoding":{"x":{"datum":0.4,"type":"quantitative"},"y":{"datum":2.85,"type":"quantitative"},"text":{"field":"T"}}},
  {"transform":[{"filter":"isValid(datum.T) && (datum.p == 'e2' || datum.p == 'f2')"}],"mark":{"type":"text","fontSize":8.5,"opacity":0},
   "encoding":{"x":{"datum":0.4,"type":"quantitative"},"y":{"datum":3.1,"type":"quantitative"},"text":{"value":" "}}},
  {"transform":[{"filter":"isValid(datum.S)"}],"mark":{"type":"text","fontSize":8.5,"align":"right","baseline":"middle","color":"#111"},
   "encoding":{"x":{"datum":3.6,"type":"quantitative"},"y":{"datum":2.87,"type":"quantitative"},"text":{"field":"S"}}}
 ]},
 "resolve":{"axis":{"x":"independent","y":"independent"}}}
],
"config":{
 "font":"Liberation Sans",
 "view":{"stroke":null},
 "header":{"labels":false,"labelExpr":"''","labelFontSize":0,"labelPadding":0,"title":null},
 "axis":{"grid":false,"domainColor":"#222","domainWidth":0.8,"tickColor":"#222","tickSize":2,"tickWidth":0.6,"labelFontSize":5,"labelColor":"#333","labelPadding":1,"titleFontSize":6.5,"titleFontWeight":"normal","titleColor":"#222","titlePadding":2}
}
}
